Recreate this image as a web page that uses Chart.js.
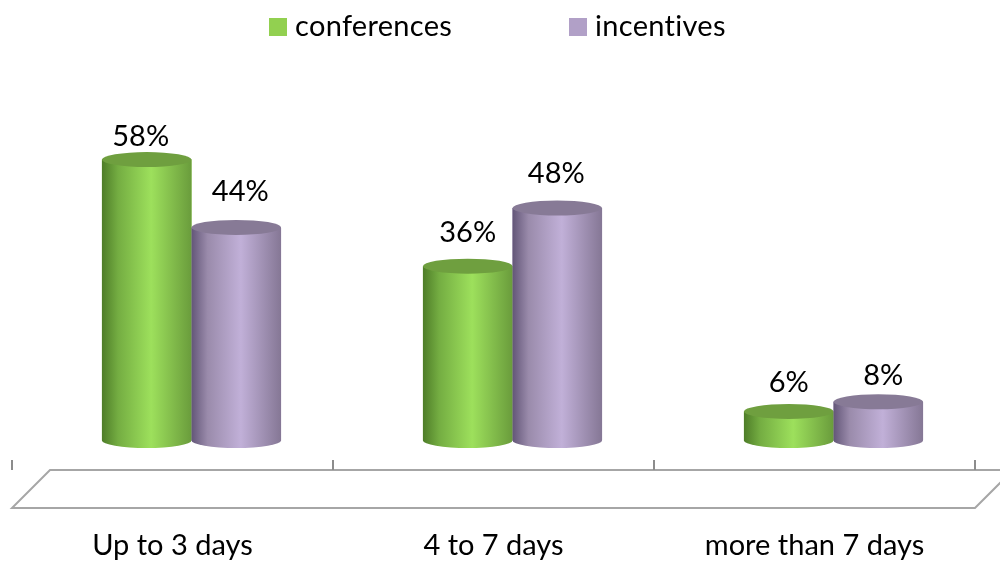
<!DOCTYPE html>
<html>
<head>
  <meta charset="UTF-8">
  <title>Length of stay</title>
  <style>
    body { margin: 0; background: #fff; }
    canvas { display: block; }
  </style>
  <script src="https://cdn.jsdelivr.net/npm/chart.js"></script>
</head>
<body>
  <canvas id="chart" width="1000" height="563"></canvas>
  <script>
    const categories = ['Up to 3 days', '4 to 7 days', 'more than 7 days'];
    const conferences = [58, 36, 6];
    const incentives = [44, 48, 8];

    const FONT = '29px Lato, "Open Sans", sans-serif';
    const BAR_SHIFT = 19; // 3D look: columns sit right of the category centre
    const CAP_RY = 7.5;

    // colours of each cylinder: left edge, shade, highlight, right edge, top cap
    const looks = [
      { stops: ['#4e7d28', '#74ad42', '#9de05c', '#6a9c3c'], cap: '#6f9f3f' },
      { stops: ['#635678', '#9a8bab', '#c1b0d8', '#857795'], cap: '#877a96' }
    ];
    // label offsets from the cap centre
    const labelNudge = [
      [[-6, -23], [0, -33], [0, -29]],
      [[4, -36], [-1, -34], [5, -26]]
    ];

    function cylinder(ctx, bar, look) {
      const rx = bar.width / 2;
      const left = bar.x - rx, right = bar.x + rx;
      const grad = ctx.createLinearGradient(left, 0, right, 0);
      grad.addColorStop(0, look.stops[0]);
      grad.addColorStop(0.18, look.stops[1]);
      grad.addColorStop(0.55, look.stops[2]);
      grad.addColorStop(1, look.stops[3]);
      ctx.fillStyle = grad;
      ctx.beginPath();
      ctx.moveTo(left, bar.y);
      ctx.lineTo(left, bar.base);
      ctx.ellipse(bar.x, bar.base, rx, CAP_RY, 0, Math.PI, 0, true);
      ctx.lineTo(right, bar.y);
      ctx.closePath();
      ctx.fill();
      ctx.fillStyle = look.cap;
      ctx.beginPath();
      ctx.ellipse(bar.x, bar.y, rx, CAP_RY, 0, 0, Math.PI * 2);
      ctx.fill();
    }

    const cylinders = {
      id: 'cylinders',
      beforeDraw(chart) {
        // floor and tick marks, hung on the x scale
        const ctx = chart.ctx, x = chart.scales.x;
        const step = (x.right - x.left) / categories.length;
        ctx.save();
        ctx.strokeStyle = '#a6a6a6';
        ctx.lineWidth = 2;
        ctx.beginPath();
        ctx.moveTo(x.right + 40, 470);
        ctx.lineTo(x.left + 38, 470);
        ctx.lineTo(x.left, 508);
        ctx.lineTo(x.right, 508);
        ctx.lineTo(x.right + 38, 470);
        ctx.stroke();
        ctx.strokeStyle = '#8c8c8c';
        ctx.beginPath();
        for (let i = 0; i <= categories.length; i++) {
          ctx.moveTo(x.left + step * i, 460);
          ctx.lineTo(x.left + step * i, 470);
        }
        ctx.stroke();
        ctx.restore();
      },
      beforeDatasetsDraw(chart) {
        chart.ctx.save();
        chart.ctx.translate(BAR_SHIFT, 0);
      },
      afterDatasetsDraw(chart) {
        const ctx = chart.ctx;
        categories.forEach(function(c, i) {
          chart.data.datasets.forEach(function(ds, d) {
            cylinder(ctx, chart.getDatasetMeta(d).data[i], looks[d]);
          });
        });
        ctx.fillStyle = '#000';
        ctx.font = FONT;
        ctx.textAlign = 'center';
        ctx.textBaseline = 'middle';
        chart.data.datasets.forEach(function(ds, d) {
          chart.getDatasetMeta(d).data.forEach(function(bar, i) {
            const n = labelNudge[d][i];
            ctx.fillText(ds.data[i] + '%', bar.x + n[0], bar.y + n[1]);
          });
        });
        ctx.restore();
      },
      afterDraw(chart) {
        // legend: box and name spaced as in the original
        const ctx = chart.ctx;
        const boxes = [269, 569];
        ctx.save();
        ctx.font = FONT;
        ctx.letterSpacing = '0.3px';
        ctx.textAlign = 'left';
        ctx.textBaseline = 'middle';
        chart.data.datasets.forEach(function(ds, d) {
          ctx.fillStyle = ds.backgroundColor;
          ctx.fillRect(boxes[d], 18, 18, 18);
          ctx.fillStyle = '#000';
          ctx.fillText(ds.label, boxes[d] + 26, 27);
        });
        ctx.restore();
      }
    };

    new Chart(document.getElementById('chart'), {
      type: 'bar',
      data: {
        labels: categories,
        datasets: [
          { label: 'conferences', data: conferences, backgroundColor: '#92d050' },
          { label: 'incentives', data: incentives, backgroundColor: '#b1a0c7' }
        ]
      },
      options: {
        responsive: false,
        animation: false,
        layout: { padding: { left: 12, right: 25, top: 53, bottom: 0 } },
        datasets: { bar: { categoryPercentage: 0.558, barPercentage: 1 } },
        plugins: { legend: { display: false }, tooltip: { enabled: false } },
        scales: {
          y: { display: false, min: 0, max: 80 },
          x: {
            grid: { display: false },
            border: { display: false },
            afterFit: function(scale) {
              scale.height = 122.5;
              scale.paddingLeft = 0;
              scale.paddingRight = 0;
            },
            ticks: {
              color: '#000',
              padding: 80,
              maxRotation: 0,
              font: { family: 'Lato, "Open Sans", sans-serif', size: 29 }
            }
          }
        }
      },
      plugins: [cylinders]
    });
  </script>
</body>
</html>
